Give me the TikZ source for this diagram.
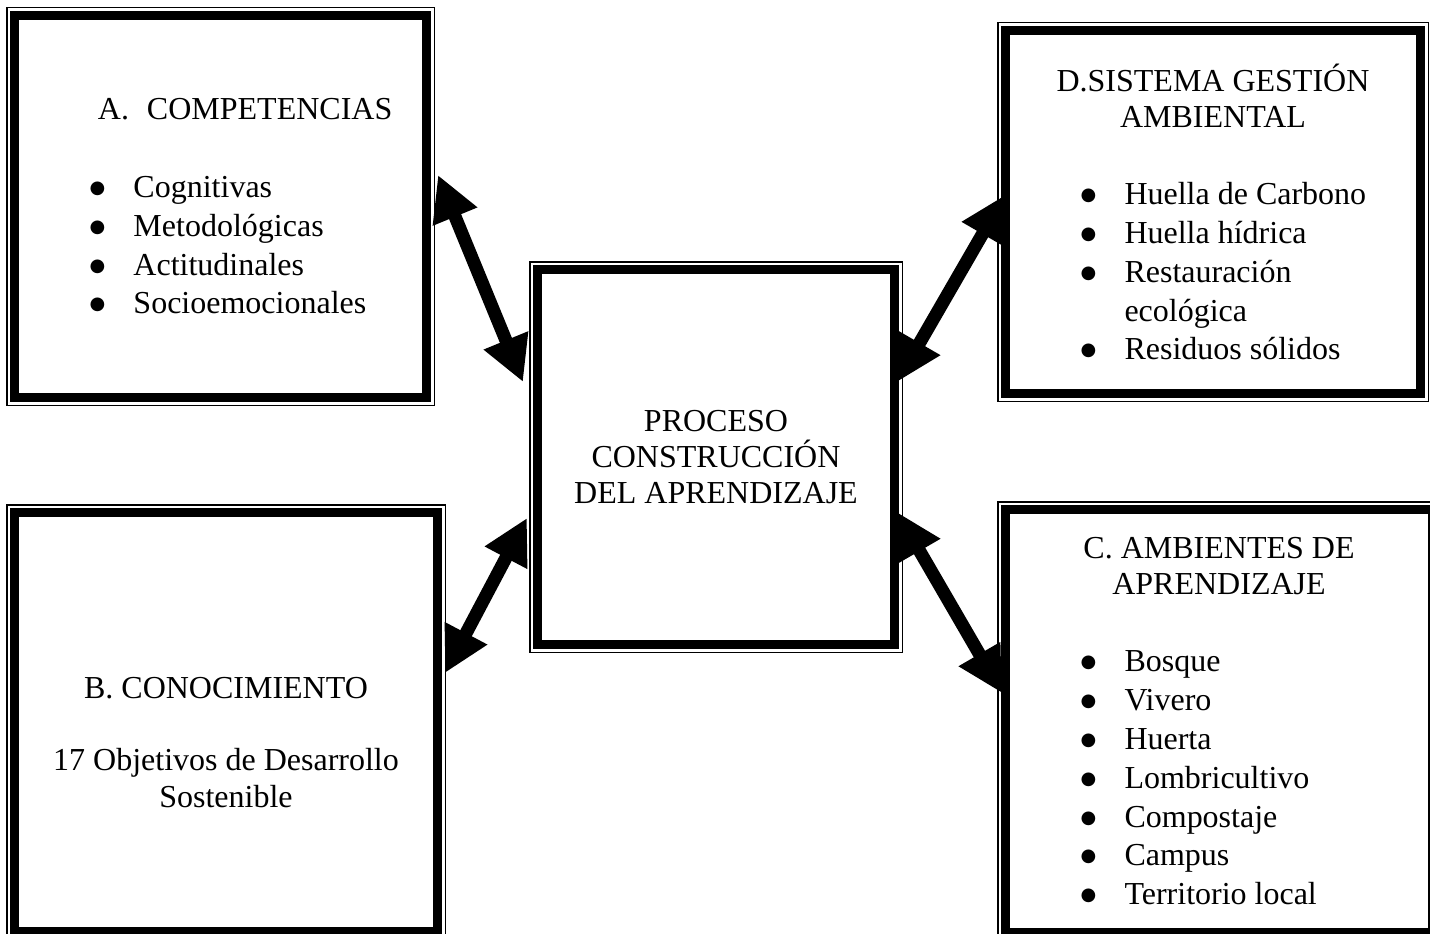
\documentclass[tikz,border=0pt]{standalone}
\usepackage{fontspec}
\setmainfont{Liberation Serif}
\newfontfamily\dotfont{DejaVu Sans}
\usetikzlibrary{arrows.meta}

\newcommand{\bul}{\raisebox{4pt}{\dotfont\fontsize{18}{18}\selectfont ●}}
\newcommand{\itm}[1]{\makebox[\hsize][l]{\hspace*{75pt}\makebox[44pt][l]{\bul}#1}}
\newcommand{\cont}[1]{\makebox[\hsize][l]{\hspace*{119pt}#1}}

\tikzset{
	frame/.style={fill=white, draw, line width=9pt, inner sep=0pt, outer sep=8.5pt,
		preaction={draw, line width=17pt}, preaction={draw=white, line width=14pt},
		font=\fontsize{32}{38.8}\selectfont, align=flush center},
	dims/.style 2 args={minimum width=#1, text width=#1, minimum height=#2},
	link/.style={{Triangle[length=45pt,width=45pt]}-{Triangle[length=45pt,width=45pt]}, line width=13pt}
}

\begin{document}
\begin{tikzpicture}[x=1pt,y=1pt]
	\useasboundingbox (0,0) rectangle (1430,-934);

	\node[frame, dims={412pt}{382pt}] (A) at (220.5,-206.5)
		{\makebox[\hsize][l]{\hspace*{83.5pt}\makebox[49pt][l]{A.}COMPETENCIAS}\\[38.8pt]
		\itm{Cognitivas}\\ \itm{Metodológicas}\\ \itm{Actitudinales}\\ \itm{Socioemocionales}};

	\node[frame, dims={423pt}{419pt}] (B) at (226,-722)
		{\mbox{}\\[24pt] B. CONOCIMIENTO\\[33pt] 17 Objetivos de Desarrollo\\[-2pt] Sostenible};

	\node[frame, dims={357pt}{375pt}] (P) at (716,-457)
		{PROCESO\\[-3pt] CONSTRUCCIÓN\\[-3pt] DEL APRENDIZAJE};

	\node[frame, dims={415pt}{363pt}] (D) at (1213,-212)
		{D.SISTEMA GESTIÓN\\[-2.8pt] AMBIENTAL\\[38.8pt]
		\itm{Huella de Carbono}\\ \itm{Huella hídrica}\\ \itm{Restauración}\\ \cont{ecológica}\\ \itm{Residuos sólidos}};

	\node[frame, dims={427pt}{423pt}] (C) at (1219,-721)
		{C. AMBIENTES DE\\[-2.8pt] APRENDIZAJE\\[38.8pt]
		\itm{Bosque}\\ \itm{Vivero}\\ \itm{Huerta}\\ \itm{Lombricultivo}\\ \itm{Compostaje}\\ \itm{Campus}\\ \itm{Territorio local}};

	\draw[link] ([shift={(3,-168)}]A.north east) -- ([shift={(-6,-121)}]P.north west);
	\draw[link] ([shift={(-1,-169)}]B.north east) -- ([shift={(-2,-257)}]P.north west);
	\draw[link] ([shift={(-6,-121)}]P.north east) -- ([shift={(8,-173)}]D.north west);
	\draw[link] ([shift={(-6,-251)}]P.north east) -- ([shift={(5,-192)}]C.north west);
\end{tikzpicture}
\end{document}
